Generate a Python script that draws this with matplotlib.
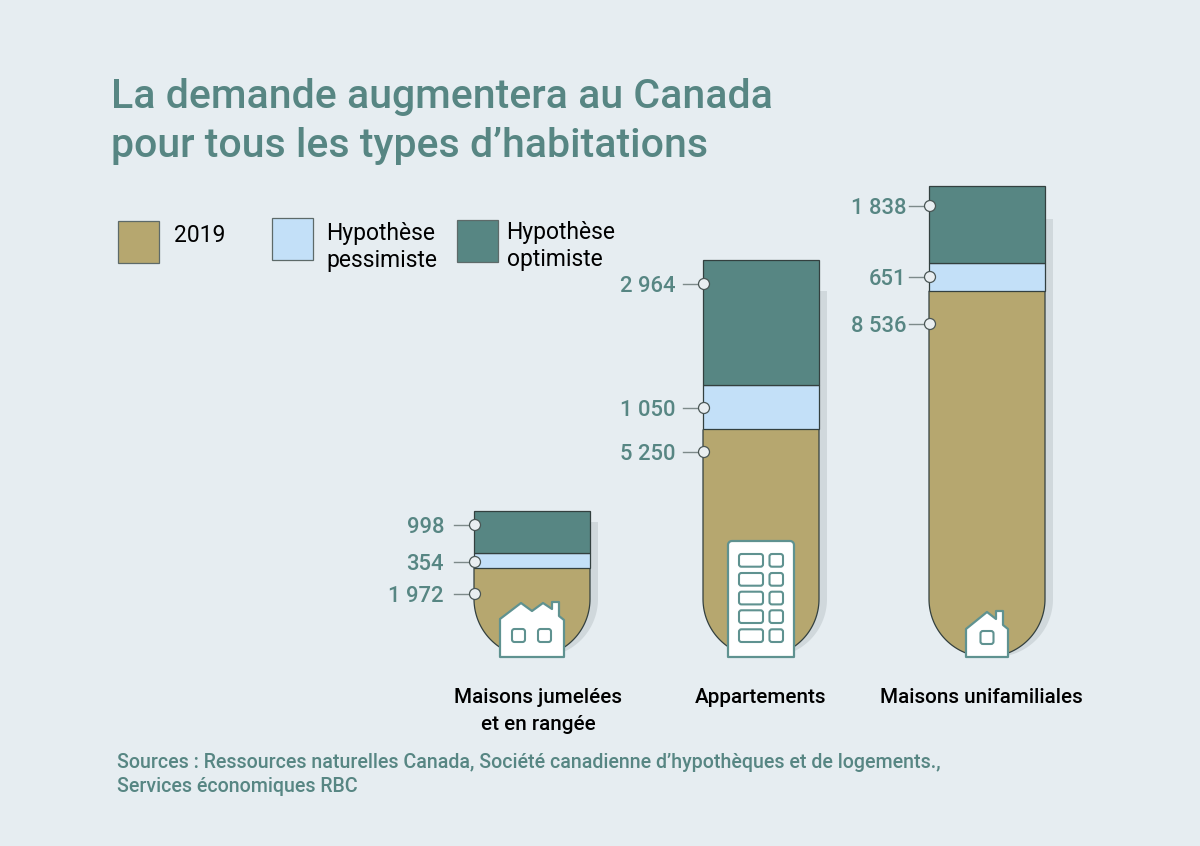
import numpy as np
import matplotlib
matplotlib.use("Agg")
import matplotlib.pyplot as plt
from matplotlib.patches import Polygon, Rectangle, FancyBboxPatch, Circle
from matplotlib.path import Path
from matplotlib.transforms import Affine2D

plt.rcParams['font.family'] = ['Roboto', 'DejaVu Sans']

categories = ["Maisons jumelées\net en rangée", "Appartements", "Maisons unifamiliales"]
base_2019 = [1972, 5250, 8536]
pessimiste = [354, 1050, 651]
optimiste = [998, 2964, 1838]
legend_names = ["2019", "Hypothèse\npessimiste", "Hypothèse\noptimiste"]

BG = "#e6edf1"
TEAL = "#578683"
BLUE = "#c3e0f8"
TAN = "#b6a76f"
SHADOW = "#d0d8dc"
EDGE = "#33403f"
ICON = "#5f9290"

# chart geometry, in reference pixels
bar_left = [474, 703, 929]
bar_w = 116
base_px = 651
scale = 0.0422
bottom_px = 657
shadow_top = [522, 291, 219]
label_y = [[594, 562, 525], [452, 408, 284], [324, 277, 206]]
label_right = [444, 676, 906.5]
name_x = [538, 760.5, 981]

fig = plt.figure(figsize=(12, 8.46), dpi=100, facecolor=BG)
ax = fig.add_axes([0, 0, 1, 1])
ax.set_facecolor(BG)
ax.set_xlim(0, 1200)
ax.set_ylim(-(846 - base_px) / scale, base_px / scale)
ax.axis("off")

# top-left pixel coordinates for everything that is not a value
px = Affine2D().scale(1, -1).translate(0, 846)


def u_shape(left, top, width=bar_w, bottom=bottom_px):
    r = width / 2
    t = np.linspace(0, np.pi, 80)
    xs = left + r + r * np.cos(t)
    ys = bottom - r + r * np.sin(t)
    return np.vstack([[left + width, top], np.column_stack([xs, ys]), [left, top]])


for i, left in enumerate(bar_left):
    ax.add_patch(Polygon(u_shape(left + 8, shadow_top[i]), closed=True,
                         fc=SHADOW, ec="none", transform=px, zorder=1))

    cx = left + bar_w / 2
    tan_top = base_px - base_2019[i] * scale
    tan = ax.bar(cx, base_2019[i] + 300, bottom=-300, width=bar_w, color=TAN,
                 edgecolor="none", zorder=2)[0]
    outline = u_shape(left, tan_top)
    tan.set_clip_path(Path(np.vstack([outline, outline[0]])), px)
    ax.plot(*outline.T, color=EDGE, lw=0.9, transform=px, zorder=2, solid_capstyle="butt")
    ax.bar(cx, pessimiste[i], bottom=base_2019[i], width=bar_w, color=BLUE,
           edgecolor=EDGE, linewidth=0.9, zorder=3)
    ax.bar(cx, optimiste[i], bottom=base_2019[i] + pessimiste[i], width=bar_w, color=TEAL,
           edgecolor=EDGE, linewidth=0.9, zorder=3)

    values = [base_2019[i], pessimiste[i], optimiste[i]]
    for val, y in zip(values, label_y[i]):
        ax.plot([left - 20, left], [y, y], color="#7d8a8a", lw=1.0, transform=px, zorder=4)
        ax.add_patch(Circle((left + 1, y), 5.5, fc="#e9eef1", ec="#4a5655", lw=0.9, transform=px, zorder=5))
        txt = f"{val:,}".replace(",", " ")
        ax.text(label_right[i], y, txt, color=TEAL, fontsize=15.8, fontweight=500, ha="right",
                va="center_baseline", transform=px, zorder=5)

    ax.text(name_x[i], 688, categories[i], color="black", fontsize=14.9, fontweight=500,
            ha="center", va="top", linespacing=1.5, transform=px, zorder=5)


def icon_body(points):
    ax.add_patch(Polygon(points, closed=True, fc="white", ec=ICON, lw=1.6, joinstyle="round",
                         transform=px, zorder=6))


def window(x, y, w, h):
    ax.add_patch(FancyBboxPatch((x, y), w, h, boxstyle="round,pad=0,rounding_size=2.5", fc="white",
                                ec=ICON, lw=1.5, transform=px, zorder=7))


# semi-detached house
icon_body([(500, 657), (500, 619), (521, 603), (532, 611), (543, 603), (552, 609), (552, 602),
           (559, 602), (559, 616), (564, 620), (564, 657)])
window(512, 629, 13, 13)
window(538, 629, 13, 13)

# apartment block
top_r = 4
arc = np.linspace(0, np.pi / 2, 8)
block = [(728, 657)] + [(728 + top_r - top_r * np.cos(a), 541 + top_r - top_r * np.sin(a)) for a in arc] \
    + [(794 - top_r + top_r * np.sin(a), 541 + top_r - top_r * np.cos(a)) for a in arc] + [(794, 657)]
icon_body(block)
for y in [554, 573, 591.7, 610.3, 629.3]:
    window(739, y, 24, 12.7)
    window(769.5, y, 13.5, 12.7)

# single house
icon_body([(966, 657), (966, 629), (987, 612), (996, 619), (996, 611), (1003, 611), (1003, 625),
           (1008, 629), (1008, 657)])
window(980.5, 631, 13, 13)

# title
ax.text(111, 93, "La demande augmentera au Canada", color=TEAL, fontsize=29.5, fontweight=500,
        va="center_baseline", transform=px)
ax.text(111, 142, "pour tous les types d’habitations", color=TEAL, fontsize=29.5, fontweight=500,
        va="center_baseline", transform=px)

# legend
swatches = [(118, 221, TAN), (272, 218, BLUE), (457, 220, TEAL)]
legend_x = [174, 326.5, 506.5]
legend_y = [235, 247, 246]
for (x, y, col), name, tx, ty in zip(swatches, legend_names, legend_x, legend_y):
    ax.add_patch(Rectangle((x, y), 41, 42, fc=col, ec="#5d6a69", lw=0.9, transform=px, zorder=3))
    ax.text(tx, ty, name, color="black", fontsize=16.5, ha="left", va="center", linespacing=1.25,
            transform=px)

# sources
ax.text(117, 760, "Sources : Ressources naturelles Canada, Société canadienne d’hypothèques et de logements.,",
        color=TEAL, fontsize=14.13, fontweight=500, va="center_baseline", transform=px)
ax.text(117, 784, "Services économiques RBC", color=TEAL, fontsize=14.13, fontweight=500,
        va="center_baseline", transform=px)

plt.savefig("out.png", facecolor=BG)
